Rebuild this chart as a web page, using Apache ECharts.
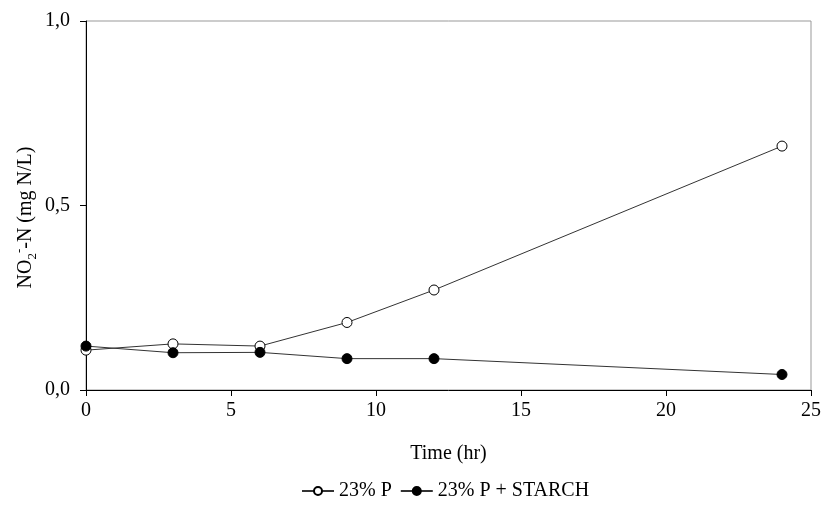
<!DOCTYPE html>
<html>
<head>
<meta charset="utf-8">
<script src="https://cdn.jsdelivr.net/npm/echarts@6/dist/echarts.min.js"></script>
<style>html,body{margin:0;padding:0;background:#fff}#c{width:823px;height:509px}</style>
</head>
<body>
<div id="c"></div>
<script>
var hours = [0, 3, 6, 9, 12, 24];
var p23 = [0.108, 0.125, 0.119, 0.183, 0.271, 0.661];
var p23Starch = [0.119, 0.101, 0.102, 0.085, 0.085, 0.042];
var seriesNames = ['23% P', '23% P + STARCH'];
var xTicks = [0, 5, 10, 15, 20, 25];
var yTicks = [0, 0.5, 1.0];

var font = 'Liberation Serif';
var fs = 20;
function pairs(xs, ys) { return xs.map(function (x, i) { return [x, ys[i]]; }); }

var chart = echarts.init(document.getElementById('c'));
chart.setOption({
  animation: false,
  backgroundColor: '#fff',
  textStyle: { fontFamily: font, color: '#000' },
  grid: { left: 86, right: 12, top: 21, bottom: 119, containLabel: false, outerBoundsMode: 'none',
    show: true, borderColor: '#999', borderWidth: 1 },
  xAxis: {
    type: 'value', min: xTicks[0], max: xTicks[xTicks.length - 1], interval: 5,
    name: 'Time (hr)', nameLocation: 'middle', nameGap: 54, nameMoveOverlap: false,
    nameTextStyle: { fontFamily: font, fontSize: fs, color: '#000' },
    axisLine: { lineStyle: { color: '#000', width: 1 } },
    axisTick: { show: true, inside: false, length: 6, lineStyle: { color: '#000' } },
    axisLabel: { fontFamily: font, fontSize: fs, color: '#000', margin: 11 },
    splitLine: { show: false }
  },
  yAxis: {
    type: 'value', min: yTicks[0], max: yTicks[yTicks.length - 1], interval: 0.5,
    name: '{n|NO}{sub|2}{sup|-}{n|-N (mg N/L)}', nameLocation: 'middle', nameGap: 50, nameMoveOverlap: false,
    nameTextStyle: {
      fontFamily: font, fontSize: fs, color: '#000', padding: [0, 24, 0, 0],
      rich: {
        n: { fontFamily: font, fontSize: fs, color: '#000' },
        sub: { fontFamily: font, fontSize: 13, color: '#000', verticalAlign: 'bottom', padding: [0, 0, -3, 0] },
        sup: { fontFamily: font, fontSize: 13, color: '#000', verticalAlign: 'top', padding: [-3, 0, 0, 0] }
      }
    },
    axisLine: { show: true, lineStyle: { color: '#000', width: 1 } },
    axisTick: { show: true, inside: false, length: 6, lineStyle: { color: '#000' } },
    axisLabel: { fontFamily: font, fontSize: fs, color: '#000', margin: 16,
      formatter: function (v) { return v.toFixed(1).replace('.', ','); } },
    splitLine: { show: false }
  },
  legend: {
    bottom: 3, left: 296, itemWidth: 32, itemHeight: 10, itemGap: 8,
    textStyle: { fontFamily: font, fontSize: fs, color: '#000' },
    data: seriesNames
  },
  series: [
    {
      name: seriesNames[0], type: 'line', data: pairs(hours, p23),
      symbol: 'circle', symbolSize: 10,
      itemStyle: { color: '#fff', borderColor: '#000', borderWidth: 1 },
      lineStyle: { color: '#333', width: 1 }
    },
    {
      name: seriesNames[1], type: 'line', data: pairs(hours, p23Starch),
      symbol: 'circle', symbolSize: 10,
      itemStyle: { color: '#000', borderColor: '#000', borderWidth: 1 },
      lineStyle: { color: '#333', width: 1 }
    }
  ]
});
</script>
</body>
</html>
